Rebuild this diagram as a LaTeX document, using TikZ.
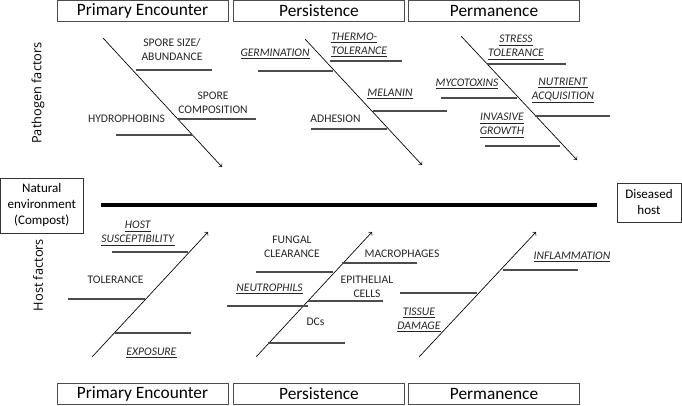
\documentclass[tikz,border=0pt]{standalone}
\usepackage{fontspec}
\setmainfont{Carlito}
\newfontfamily\sidefont{Open Sans}
\usetikzlibrary{positioning}
\newcommand{\ulit}[1]{\underline{\textit{#1}}}

\begin{document}
\begin{tikzpicture}[>=to, x=0.75pt, y=-0.75pt,
    stage/.style={draw=black!70, minimum width=128pt, minimum height=15.5pt, inner sep=0pt,
        font=\fontsize{13}{15}\selectfont},
    endbox/.style={draw=black!80, align=center, inner sep=0pt, font=\fontsize{9.8}{12}\selectfont},
    factor/.style={align=center, inner sep=0pt, text=black!85, font=\fontsize{8.7}{10.5}\selectfont},
    side/.style={rotate=90, inner sep=0pt, font=\sidefont\fontsize{9.6}{12}\selectfont},
    bone/.style={draw=black!70, line width=0.8pt},
    spine/.style={->, line width=0.5pt}]
    \useasboundingbox (0,0) rectangle (682,405);

    % Phasen oben und unten
    \node[stage] (enc1) at (142.5,10.5) {Primary Encounter};
    \node[stage] (per1) at (319,10.5) {Persistence};
    \node[stage] (perm1) at (494,10.5) {Permanence};
    \node[stage] (enc2) at (142.5,393.5) {Primary Encounter};
    \node[stage] (per2) at (319,393.5) {Persistence};
    \node[stage] (perm2) at (494,393.5) {Permanence};

    % Anfang und Ende
    \node[endbox, minimum width=62pt, minimum height=41pt] (nat) at (41.8,205.5)
        {Natural\\environment\\(Compost)};
    \node[endbox, minimum width=48pt, minimum height=29pt] (dis) at (649,202.5) {Diseased\\host};
    \coordinate (a) at ([xshift=13.5pt]nat.east |- 0,205);
    \coordinate (b) at ([xshift=-15pt]dis.west |- 0,205);
    \draw[line width=3.4pt] (a) -- (b);

    \node[side] (path) at (38,93) {Pathogen factors};
    \node[side] (host) at (38,275) {Host factors};

    % Pathogen: Primary Encounter
    \coordinate (s1a) at (103,38);
    \coordinate (s1b) at (222,167);
    \draw[spine] (s1a) -- (s1b);
    \node[factor] (size) at (172,50) {SPORE SIZE/\\ABUNDANCE};
    \draw[bone] (136,70) -- (212,70);
    \node[factor] (comp) at (213,102.5) {SPORE\\COMPOSITION};
    \draw[bone] (178,119) -- (256,119);
    \node[factor] (hyd) at (126.5,119) {HYDROPHOBINS};
    \draw[bone] (116,135) -- (192,135);

    % Pathogen: Persistence
    \coordinate (s2a) at (305,39);
    \coordinate (s2b) at (422,165);
    \draw[spine] (s2a) -- (s2b);
    \node[factor] (germ) at (275,54) {\ulit{GERMINATION}};
    \draw[bone] (258,71) -- (333,71);
    \node[factor, align=left, anchor=west] (therm) at (331,45) {\ulit{THERMO-}\\\ulit{TOLERANCE}};
    \draw[bone] (330,61) -- (402,61);
    \node[factor] (mel) at (390,94) {\ulit{MELANIN}};
    \draw[bone] (373,111) -- (447,111);
    \node[factor] (adh) at (335.5,119) {ADHESION};
    \draw[bone] (311,129) -- (387,129);

    % Pathogen: Permanence
    \coordinate (s3a) at (461,36);
    \coordinate (s3b) at (577,160);
    \draw[spine] (s3a) -- (s3b);
    \node[factor] (stress) at (516,47.5) {\ulit{STRESS}\\\ulit{TOLERANCE}};
    \draw[bone] (487,64) -- (566,64);
    \node[factor] (myco) at (467,84) {\ulit{MYCOTOXINS}};
    \draw[bone] (441,98) -- (517,98);
    \node[factor] (nutr) at (563,90.5) {\ulit{NUTRIENT}\\\ulit{ACQUISITION}};
    \draw[bone] (535,116) -- (610,116);
    \node[factor] (inv) at (502,125.5) {\ulit{INVASIVE}\\\ulit{GROWTH}};
    \draw[bone] (485,146) -- (560,146);

    % Host: Primary Encounter
    \coordinate (h1a) at (92,357);
    \coordinate (h1b) at (208,232);
    \draw[spine] (h1a) -- (h1b);
    \node[factor] (susc) at (138,233.5) {\ulit{HOST}\\\ulit{SUSCEPTIBILITY}};
    \draw[bone] (112,252) -- (188,252);
    \node[factor] (tol) at (115.5,280) {TOLERANCE};
    \draw[bone] (68,299) -- (145,299);
    \node[factor] (expo) at (151.5,353) {\ulit{EXPOSURE}};
    \draw[bone] (115,333) -- (191,333);

    % Host: Persistence
    \coordinate (h2a) at (256,357);
    \coordinate (h2b) at (372,232);
    \draw[spine] (h2a) -- (h2b);
    \node[factor] (clear) at (292,247) {FUNGAL\\CLEARANCE};
    \draw[bone] (256,272) -- (333,272);
    \node[factor] (macro) at (402,254) {MACROPHAGES};
    \draw[bone] (342,263) -- (417,263);
    \node[factor] (neut) at (269.5,289) {\ulit{NEUTROPHILS}};
    \draw[bone] (227,306) -- (308,306);
    \node[factor] (epi) at (367,287) {EPITHELIAL\\CELLS};
    \draw[bone] (308,301) -- (383,301);
    \node[factor] (dcs) at (315.5,322) {DCs};
    \draw[bone] (268,343) -- (345,343);

    % Host: Permanence
    \coordinate (h3a) at (419,357);
    \coordinate (h3b) at (536,232);
    \draw[spine] (h3a) -- (h3b);
    \node[factor] (infl) at (572,257) {\ulit{INFLAMMATION}};
    \draw[bone] (503,270) -- (578,270);
    \draw[bone] (400,293) -- (477,293);
    \node[factor] (tiss) at (419,320) {\ulit{TISSUE}\\\ulit{DAMAGE}};
\end{tikzpicture}
\end{document}
